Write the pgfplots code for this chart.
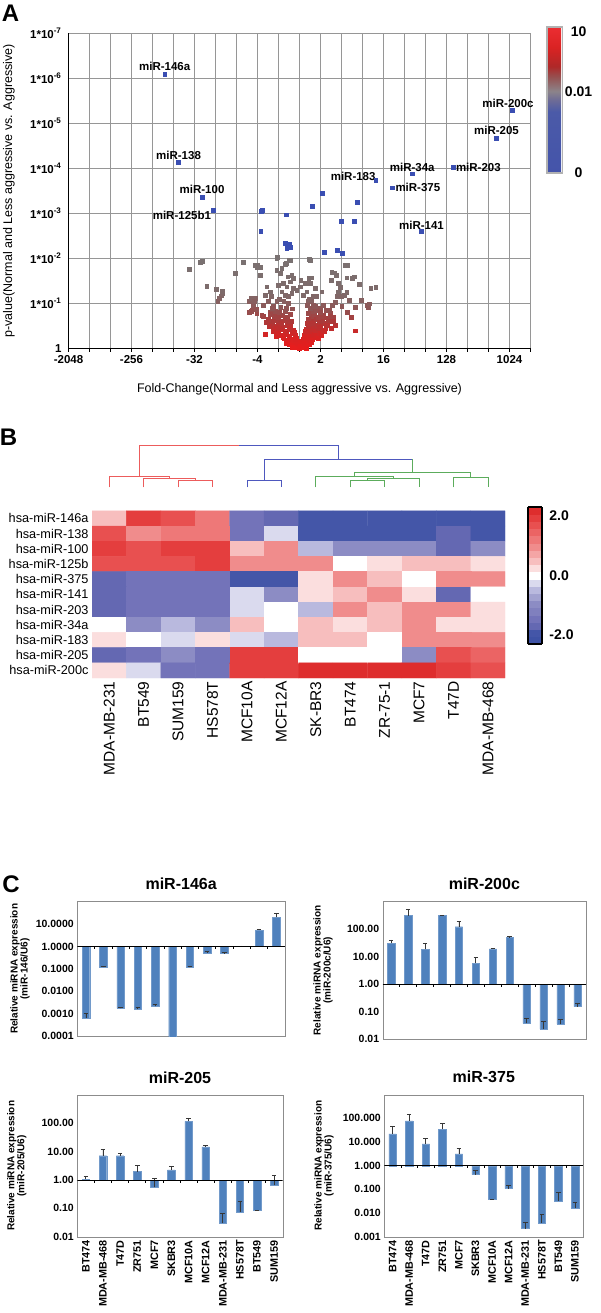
\documentclass[border=0pt]{standalone}
\usepackage{pgfplots}
\pgfplotsset{compat=1.18}
\usepackage{fontspec}
\setmainfont{Liberation Sans}

\definecolor{barblue}{RGB}{79,129,189}
\definecolor{ptblue}{RGB}{58,78,178}
\definecolor{gridgray}{RGB}{150,150,150}
\definecolor{dred}{RGB}{236,92,92}
\definecolor{dblue}{RGB}{78,88,190}
\definecolor{dgreen}{RGB}{92,172,92}
\definecolor{errgray}{RGB}{55,55,55}

\newcommand{\fsz}[1]{\fontsize{#1}{#1}\selectfont}
\tikzset{lbl/.style={font=\bfseries\fsz{11.5}, inner sep=1pt, text=black}}

\pgfplotsset{
  every bar axis/.style={
    scale only axis,
    xmin=-0.5, xmax=11.5, xtick={0,...,11},
    axis line style={black!45},
    tick style={draw=none},
    yticklabel style={font=\bfseries\fsz{10.5}},
    xticklabel style={font=\bfseries\fsz{10.8}, rotate=90, anchor=east},
    title style={font=\bfseries\fsz{16}, at={(axis description cs:0.5,1)}, anchor=center, yshift=11.5pt},
    ylabel style={font=\bfseries\fsz{10}, align=center, anchor=center},
  },
}

\begin{document}
\begin{tikzpicture}
\useasboundingbox (0,0) rectangle (600pt,-1313pt);

% ---------------- A: volcano plot
\begin{axis}[scale only axis, at={(68.5pt,-348.3pt)}, anchor=south west,
  width=462pt, height=315pt, xmin=-11, xmax=11, ymin=0, ymax=7,
  axis x line*=bottom, axis y line*=left, axis line style={black, line width=0.7pt},
  xtick={-11,...,11}, xticklabels={-2048,,,-256,,,-32,,,-4,,,2,,,16,,,128,,,1024,},
  ytick={0,...,7},
  yticklabels={1,1*10\textsuperscript{-1},1*10\textsuperscript{-2},1*10\textsuperscript{-3},1*10\textsuperscript{-4},1*10\textsuperscript{-5},1*10\textsuperscript{-6},1*10\textsuperscript{-7}},
  grid=major, major grid style={gridgray, line width=0.6pt},
  tick align=outside, major tick length=3.5pt, xtick style={black, line width=0.6pt}, ytick style={draw=none},
  ticklabel style={font=\bfseries\fsz{11.5}},
  xlabel={Fold-Change(Normal and Less aggressive vs. Aggressive)},
  xlabel style={font=\fsz{12.5}, at={(axis description cs:0.5,-0.13)}, anchor=center},
  ylabel={p-value(Normal and Less aggressive vs. Aggressive)},
  ylabel style={font=\fsz{12.5}, at={(axis description cs:-0.129,0.5)}, anchor=center},
  colormap={cloud}{rgb255(0cm)=(232,28,28); rgb255(3cm)=(212,36,36); rgb255(6cm)=(172,56,56); rgb255(9cm)=(142,86,86); rgb255(12cm)=(126,106,106); rgb255(20cm)=(122,114,114)},
  point meta min=0, point meta max=2, clip=false]

\addplot[scatter, only marks, mark=square*, mark size=1.9pt, point meta=y,
  scatter/use mapped color={draw=mapped color, fill=mapped color}] coordinates {
(-5.25,1.75) (-4.72,1.92) (-4.62,1.94) (-4.42,1.38) (-3.98,1.31) (-3.70,1.27) (-3.68,1.22)
(-3.74,1.17) (-3.82,1.11) (-3.90,1.05) (-3.05,1.67) (-2.68,1.92) (-2.39,1.04) (-2.39,0.81)
(-1.09,2.00) (-0.48,1.96) (0.47,1.98) (-2.13,1.84) (-2.01,1.79) (-0.69,1.87) (-0.85,1.78)
(-1.09,1.74) (-0.37,1.63) (-0.56,1.59) (-0.93,1.67) (-1.88,1.63) (0.44,1.55) (0.58,1.57)
(1.53,1.70) (1.50,1.52) (1.72,1.63) (1.85,1.44) (2.25,1.57) (1.93,1.35) (2.25,1.24)
(1.77,1.15) (1.69,1.02) (2.01,0.93) (2.37,1.07) (2.14,1.18)
(-1.56,1.37) (-1.40,1.26) (-1.64,1.18) (-1.33,1.15) (-1.72,0.96) (-1.48,1.04) (-1.25,0.93)
(-1.40,0.81) (-1.09,1.04) (-1.01,1.41) (-0.77,1.44) (-0.61,1.37) (-0.45,1.48) (-0.29,1.55)
(-0.29,1.33) (-0.85,1.26) (-0.69,1.18) (-0.53,1.15) (-0.37,1.22) (-0.13,1.30) (0.02,1.37)
(0.18,1.18) (0.34,1.26) (0.42,1.04) (0.58,1.07) (0.66,0.96) (0.82,1.15) (0.98,0.89)
(1.13,0.96) (1.29,0.85) (1.45,0.78) (1.61,0.70) (1.06,1.26) (0.74,1.33) (0.50,1.44)
(0.26,1.44) (0.06,1.52) (1.13,0.74) (0.82,0.67) (1.53,0.59) (1.69,0.52) (1.29,0.52)
(-2.12,1.11) (-2.28,0.85) (-2.04,0.78) (-1.80,0.74) (-2.20,0.96)
(-0.30,0.05) (-0.15,0.02) (0.00,0.00) (0.12,0.03) (0.25,0.06) (-0.40,0.10) (0.35,0.10)
(-0.05,0.08) (0.10,0.10) (-0.22,0.12)
(-0.60,0.18) (-0.45,0.20) (-0.30,0.17) (-0.15,0.22) (0.00,0.15) (0.15,0.20) (0.30,0.18)
(0.45,0.22) (0.60,0.20) (-0.75,0.22) (0.75,0.24)
(-0.90,0.30) (-0.70,0.32) (-0.50,0.28) (-0.35,0.33) (-0.20,0.30) (0.20,0.30) (0.35,0.33)
(0.50,0.28) (0.65,0.32) (0.80,0.30) (0.95,0.34)
(-1.05,0.40) (-0.85,0.42) (-0.65,0.38) (-0.45,0.42) (-0.30,0.40) (0.30,0.42) (0.45,0.38)
(0.60,0.42) (0.75,0.40) (0.90,0.44) (1.10,0.40) (1.25,0.45)
(-1.20,0.50) (-1.00,0.52) (-0.80,0.48) (-0.60,0.52) (-0.42,0.50) (0.40,0.50) (0.55,0.53)
(0.70,0.48) (0.85,0.52) (1.00,0.50) (1.15,0.55) (-1.35,0.55)
(-1.30,0.60) (-1.10,0.62) (-0.90,0.60) (-0.70,0.63) (-0.55,0.60) (0.50,0.62) (0.65,0.60)
(0.80,0.64) (0.95,0.60) (1.10,0.63) (1.35,0.62) (-1.50,0.65)
(-1.20,0.72) (-1.00,0.70) (-0.80,0.73) (-0.60,0.70) (0.55,0.72) (0.70,0.75) (0.90,0.70)
(1.05,0.72) (1.25,0.68)
(-1.15,0.82) (-0.95,0.80) (-0.70,0.83) (0.60,0.82) (0.80,0.85) (1.00,0.80) (1.40,0.85)
(-0.90,0.92) (-0.65,0.90) (0.50,0.90) (0.75,0.93) (-1.30,0.90)
(-0.75,1.05) (-0.55,1.00) (0.45,1.10) (0.65,1.15) (-0.95,1.10)
(-1.74,0.72) (-1.65,0.31) (-1.10,0.27) (-2.05,0.87) (-2.29,0.83) (-2.29,1.11) (-2.16,1.04)
(2.66,0.39) (3.20,0.96) (2.66,0.92) (2.29,0.81) (2.47,0.70) (3.26,0.92) (3.33,0.99)
(2.93,1.07) (3.39,1.33) (3.63,1.35) (2.84,1.43) (2.60,1.59) (2.50,1.55) (2.29,1.85)
(2.16,1.85) (0.51,1.95) (-1.06,2.02) (-0.64,1.89) (-0.42,1.96) (-2.02,1.85) (-1.87,1.80)
(-2.70,1.92) (1.65,1.68) (1.74,1.62) (1.83,1.26) (2.00,1.15) (1.56,0.96)
(-0.50,0.08) (0.45,0.08) (-0.35,0.02) (0.30,0.01) (0.05,0.05) (-0.10,0.15) (0.20,0.12)
(-0.80,0.25) (0.90,0.22) (-1.00,0.33) (1.05,0.30) (-1.15,0.44) (1.20,0.38) (-0.95,0.47)
(0.95,0.47) (-1.25,0.38) (1.30,0.52) (-1.45,0.50) (1.50,0.45) (-0.20,0.20) (0.22,0.24)
(-0.65,0.12) (0.55,0.14) (-0.85,0.55) (0.60,0.55) (-0.50,0.45) (0.35,0.55) (-0.40,0.60)
(0.42,0.66) (-1.60,0.58) (1.60,0.60) (-0.45,0.75) (0.40,0.78) (-0.35,0.88) (0.35,0.95)
(-1.40,0.75) (1.45,0.72) (-0.25,0.35) (0.25,0.38)
};

\addplot[only marks, mark=square*, mark size=1.9pt, color=ptblue] coordinates {
(-6.42,6.09) (-5.76,4.13) (-4.64,3.36) (-4.11,3.07) (10.12,5.29) (9.38,4.67) (7.30,4.03)
(5.37,3.88) (3.63,3.73) (4.42,3.57) (5.81,2.60)
(1.09,3.45) (2.74,3.25) (0.61,3.16) (-1.78,3.07) (-1.83,3.04) (-0.64,2.97) (2.00,2.83)
(2.59,2.83) (-1.85,2.61) (-0.69,2.33) (-0.58,2.29) (-0.49,2.31) (-0.61,2.23) (-0.46,2.25)
(1.17,2.13) (1.80,2.18) (2.05,2.11)
};

\node[lbl, anchor=south, yshift=2pt] at (axis cs:-6.42,6.09) {miR-146a};
\node[lbl, anchor=south, yshift=2pt] at (axis cs:-5.76,4.13) {miR-138};
\node[lbl, anchor=south, yshift=2pt] at (axis cs:-4.64,3.36) {miR-100};
\node[lbl, anchor=east, xshift=-1pt, yshift=-5pt] at (axis cs:-4.11,3.07) {miR-125b1};
\node[lbl, anchor=south, xshift=-4pt, yshift=1pt] at (axis cs:10.12,5.29) {miR-200c};
\node[lbl, anchor=south, yshift=2pt] at (axis cs:9.38,4.67) {miR-205};
\node[lbl, anchor=west, xshift=2pt] at (axis cs:7.30,4.03) {miR-203};
\node[lbl, anchor=south, yshift=1pt] at (axis cs:5.37,3.88) {miR-34a};
\node[lbl, anchor=south east, xshift=1pt, yshift=-1pt] at (axis cs:3.63,3.73) {miR-183};
\node[lbl, anchor=west, xshift=2pt] at (axis cs:4.42,3.57) {miR-375};
\node[lbl, anchor=south, yshift=1pt] at (axis cs:5.81,2.60) {miR-141};
\end{axis}

% colour scale of A
\begin{axis}[at={(547pt,-173pt)}, anchor=south west, hide axis, scale only axis, width=1pt, height=1pt,
  colormap={pbar}{rgb255(0cm)=(68,84,170); rgb255(42cm)=(75,90,168); rgb255(50cm)=(110,108,150); rgb255(56cm)=(140,132,138); rgb255(66cm)=(150,80,80); rgb255(73cm)=(175,40,40); rgb255(86cm)=(218,35,35); rgb255(100cm)=(235,45,50)},
  point meta min=0, point meta max=1, colorbar,
  colorbar style={at={(0,0)}, anchor=south west, scale only axis, width=15.6pt, height=146pt,
    ytick={0,0.557,0.968}, yticklabels={0,0.01,10},
    yticklabel style={font=\bfseries\fsz{14}, anchor=center, xshift=16pt},
    axis line style={black!30, line width=1.5pt}, major tick length=0pt}]
\addplot[draw=none] coordinates {(0,0)};
\end{axis}

% ---------------- B: dendrogram
\begin{axis}[at={(92pt,-487.3pt)}, anchor=south west, scale only axis, width=413.2pt, height=42.3pt,
  xmin=-0.5, xmax=11.5, ymin=0, ymax=42.3, hide axis, clip=false]
\addplot[dred, line width=0.9pt] coordinates {(2,0) (2,6.6) (3,6.6) (3,0)};
\addplot[dred, line width=0.9pt] coordinates {(1,0) (1,9) (2.5,9) (2.5,6.6)};
\addplot[dred, line width=0.9pt] coordinates {(0,0) (0,11.3) (1.75,11.3) (1.75,9)};
\addplot[dred, line width=0.9pt] coordinates {(0.875,11.3) (0.875,42.3) (3.77,42.3)};
\addplot[dblue, line width=0.9pt] coordinates {(3.77,42.3) (6.656,42.3) (6.656,28)};
\addplot[dblue, line width=0.9pt] coordinates {(4,0) (4,6.6) (5,6.6) (5,0)};
\addplot[dblue, line width=0.9pt] coordinates {(4.5,6.6) (4.5,28) (8.8125,28)};
\addplot[dgreen, line width=0.9pt] coordinates {(8.8125,28) (8.8125,14.6)};
\addplot[dgreen, line width=0.9pt] coordinates {(7,0) (7,7.3) (8,7.3) (8,0)};
\addplot[dgreen, line width=0.9pt] coordinates {(7.5,7.3) (7.5,9) (9,9) (9,0)};
\addplot[dgreen, line width=0.9pt] coordinates {(6,0) (6,10.6) (8.25,10.6) (8.25,9)};
\addplot[dgreen, line width=0.9pt] coordinates {(10,0) (10,10) (11,10) (11,0)};
\addplot[dgreen, line width=0.9pt] coordinates {(7.125,10.6) (7.125,14.6) (10.5,14.6) (10.5,10)};
\end{axis}

% ---------------- B: heat map
\begin{axis}[scale only axis, at={(92pt,-678pt)}, anchor=south west, width=413.2pt, height=167.2pt,
  xmin=-0.5, xmax=11.5, ymin=-0.5, ymax=10.5, y dir=reverse,
  axis line style={draw=none}, tick style={draw=none},
  xtick={0,...,11},
  xticklabels={MDA-MB-231,BT549,SUM159,HS578T,MCF10A,MCF12A,SK-BR3,BT474,ZR-75-1,MCF7,T47D,MDA-MB-468},
  xticklabel style={rotate=90, anchor=east, font=\fsz{15.5}},
  ytick={0,...,10},
  yticklabels={hsa-miR-146a,hsa-miR-138,hsa-miR-100,hsa-miR-125b,hsa-miR-375,hsa-miR-141,hsa-miR-203,hsa-miR-34a,hsa-miR-183,hsa-miR-205,hsa-miR-200c},
  yticklabel style={font=\fsz{12.7}},
  colormap={heat}{rgb255=(62,82,165) rgb255=(68,86,168) rgb255=(100,104,178) rgb255=(115,115,185)
    rgb255=(128,128,190) rgb255=(140,140,196) rgb255=(162,162,208) rgb255=(185,185,222)
    rgb255=(218,218,238) rgb255=(255,255,255) rgb255=(251,222,222) rgb255=(247,190,190)
    rgb255=(244,165,165) rgb255=(240,140,140) rgb255=(238,120,120) rgb255=(235,100,100)
    rgb255=(232,80,80) rgb255=(228,62,62) rgb255=(222,45,45)},
  colormap access=piecewise constant,
  point meta min=-2.3, point meta max=2.3,
  colorbar,
  colorbar style={at={(1.055,1.0227)}, anchor=north west, scale only axis, width=14pt, height=137pt,
    ytick={-2,0,2}, yticklabels={-2.0,0.0,2.0}, yticklabel style={font=\bfseries\fsz{14}, xshift=4pt},
    axis line style={black, line width=2pt}, major tick length=0pt}]
\addplot[matrix plot*, mesh/cols=12, point meta=explicit] coordinates {
(0,0)[0.5] (1,0)[1.9] (2,0)[1.6] (3,0)[1.1] (4,0)[-1.5] (5,0)[-1.8] (6,0)[-2] (7,0)[-2] (8,0)[-2] (9,0)[-2] (10,0)[-2] (11,0)[-2]
(0,1)[1.6] (1,1)[1.0] (2,1)[1.3] (3,1)[1.3] (4,1)[-1.5] (5,1)[-0.3] (6,1)[-2] (7,1)[-2] (8,1)[-2] (9,1)[-2] (10,1)[-1.8] (11,1)[-2]
(0,2)[1.9] (1,2)[1.7] (2,2)[1.9] (3,2)[2.0] (4,2)[0.5] (5,2)[1.0] (6,2)[-0.6] (7,2)[-1.0] (8,2)[-1.0] (9,2)[-1.0] (10,2)[-1.8] (11,2)[-1.0]
(0,3)[1.6] (1,3)[1.6] (2,3)[1.6] (3,3)[2.0] (4,3)[1.0] (5,3)[1.0] (6,3)[1.0] (7,3)[0] (8,3)[0.3] (9,3)[0.6] (10,3)[0.6] (11,3)[0.3]
(0,4)[-1.8] (1,4)[-1.5] (2,4)[-1.5] (3,4)[-1.5] (4,4)[-2] (5,4)[-2] (6,4)[0.3] (7,4)[1.0] (8,4)[0.6] (9,4)[0] (10,4)[1.0] (11,4)[1.0]
(0,5)[-1.6] (1,5)[-1.5] (2,5)[-1.5] (3,5)[-1.5] (4,5)[-0.3] (5,5)[-1.0] (6,5)[0.3] (7,5)[0.6] (8,5)[1.0] (9,5)[0.3] (10,5)[-1.6] (11,5)[0]
(0,6)[-1.8] (1,6)[-1.5] (2,6)[-1.5] (3,6)[-1.5] (4,6)[-0.3] (5,6)[0] (6,6)[-0.6] (7,6)[1.0] (8,6)[0.6] (9,6)[1.0] (10,6)[1.0] (11,6)[0.3]
(0,7)[0] (1,7)[-1.0] (2,7)[-0.6] (3,7)[-1.0] (4,7)[0.6] (5,7)[0.05] (6,7)[0.6] (7,7)[0.3] (8,7)[0.6] (9,7)[1.0] (10,7)[0.3] (11,7)[0.3]
(0,8)[0.3] (1,8)[0] (2,8)[-0.3] (3,8)[0.3] (4,8)[-0.3] (5,8)[-0.6] (6,8)[0.6] (7,8)[0.6] (8,8)[0] (9,8)[1.0] (10,8)[1.0] (11,8)[1.0]
(0,9)[-1.8] (1,9)[-1.5] (2,9)[-1.0] (3,9)[-1.5] (4,9)[2.0] (5,9)[2.0] (6,9)[0] (7,9)[0] (8,9)[0] (9,9)[-1.0] (10,9)[1.6] (11,9)[1.4]
(0,10)[0.3] (1,10)[-0.3] (2,10)[-1.5] (3,10)[-1.5] (4,10)[2.0] (5,10)[2.0] (6,10)[2.2] (7,10)[2.2] (8,10)[2.1] (9,10)[2.2] (10,10)[1.9] (11,10)[1.8]
};
\end{axis}

% ---------------- C: miR-146a
\begin{axis}[every bar axis, ymode=log, log origin y=0,
  at={(77.3pt,-1036pt)}, anchor=south west, width=207.7pt, height=134.4pt,
  ymin=1e-4, ymax=100, ytick={1e-4,1e-3,1e-2,1e-1,1,10},
  yticklabels={0.0001,0.0010,0.0100,0.1000,1.0000,10.0000},
  xticklabels={}, title={miR-146a},
  ylabel={Relative miRNA expression\\(miR-146/U6)},
  ylabel style={at={(axis description cs:-0.276,0.5)}}]
\addplot[ybar, bar width=7.5pt, bar shift=0pt, fill=barblue, draw=barblue!80!white,
  error bars/.cd, y dir=plus, y explicit, error bar style={errgray, line width=0.8pt},
  error mark options={errgray, mark size=2.3pt, line width=0.8pt, rotate=90}] coordinates {
(0,6.5e-4) +- (0,4e-4) (1,0.12) +- (0,0.01) (2,0.0017) +- (0,0.0002) (3,0.0016) +- (0,0.0003)
(4,0.0021) +- (0,0.0004) (5,5e-5) +- (0,0) (6,0.12) +- (0,0.01) (7,0.52) +- (0,0.08)
(8,0.48) +- (0,0.06) (9,1.03) +- (0,0.02) (10,5.3) +- (0,0.5) (11,19.7) +- (0,10)};
\addplot[black, line width=0.8pt] coordinates {(-0.5,1) (11.5,1)};
\addplot[draw=none, mark=none, error bars/.cd, y dir=minus, y fixed relative=0.22, error mark=none,
  error bar style={draw=black, line width=0.6pt}] coordinates {(0.5,1) (1.5,1) (2.5,1) (3.5,1) (4.5,1) (5.5,1) (6.5,1) (7.5,1) (8.5,1) (9.5,1) (10.5,1)};
\end{axis}

% ---------------- C: miR-200c
\begin{axis}[every bar axis, ymode=log, log origin y=0,
  at={(382.7pt,-1039pt)}, anchor=south west, width=203.3pt, height=137.5pt,
  ymin=0.01, ymax=1000, ytick={0.01,0.1,1,10,100},
  yticklabels={0.01,0.10,1.00,10.00,100.00},
  xticklabels={}, title={miR-200c},
  ylabel={Relative miRNA expression\\(miR-200c/U6)},
  ylabel style={at={(axis description cs:-0.294,0.5)}}]
\addplot[ybar, bar width=7.5pt, bar shift=0pt, fill=barblue, draw=barblue!80!white,
  error bars/.cd, y dir=plus, y explicit, error bar style={errgray, line width=0.8pt},
  error mark options={errgray, mark size=2.3pt, line width=0.8pt, rotate=90}] coordinates {
(0,30) +- (0,10) (1,305) +- (0,215) (2,18) +- (0,12) (3,305) +- (0,15)
(4,121) +- (0,64) (5,5.7) +- (0,3.6) (6,19) +- (0,1) (7,50) +- (0,3)
(8,0.037) +- (0,0.019) (9,0.023) +- (0,0.022) (10,0.035) +- (0,0.018) (11,0.15) +- (0,0.04)};
\addplot[black, line width=0.8pt] coordinates {(-0.5,1) (11.5,1)};
\addplot[draw=none, mark=none, error bars/.cd, y dir=minus, y fixed relative=0.22, error mark=none,
  error bar style={draw=black, line width=0.6pt}] coordinates {(0.5,1) (1.5,1) (2.5,1) (3.5,1) (4.5,1) (5.5,1) (6.5,1) (7.5,1) (8.5,1) (9.5,1) (10.5,1)};
\end{axis}

% ---------------- C: miR-205
\begin{axis}[every bar axis, ymode=log, log origin y=0,
  at={(77.3pt,-1236.7pt)}, anchor=south west, width=205.4pt, height=141.7pt,
  ymin=0.01, ymax=1000, ytick={0.01,0.1,1,10,100},
  yticklabels={0.01,0.10,1.00,10.00,100.00},
  xticklabels={BT474,MDA-MB-468,T47D,ZR751,MCF7,SKBR3,MCF10A,MCF12A,MDA-MB-231,HS578T,BT549,SUM159},
  title={miR-205},
  ylabel={Relative miRNA expression\\(miR-205/U6)},
  ylabel style={at={(axis description cs:-0.295,0.5)}}]
\addplot[ybar, bar width=7.5pt, bar shift=0pt, fill=barblue, draw=barblue!80!white,
  error bars/.cd, y dir=plus, y explicit, error bar style={errgray, line width=0.8pt},
  error mark options={errgray, mark size=2.3pt, line width=0.8pt, rotate=90}] coordinates {
(0,1.05) +- (0,0.3) (1,7.2) +- (0,5.2) (2,7.2) +- (0,1.3) (3,2.0) +- (0,1.2)
(4,0.55) +- (0,0.55) (5,2.3) +- (0,0.7) (6,117) +- (0,38) (7,14.7) +- (0,1.5)
(8,0.030) +- (0,0.038) (9,0.076) +- (0,0.1) (10,0.083) +- (0,0.004) (11,0.66) +- (0,0.75)};
\addplot[black, line width=0.8pt] coordinates {(-0.5,1) (11.5,1)};
\addplot[draw=none, mark=none, error bars/.cd, y dir=minus, y fixed relative=0.22, error mark=none,
  error bar style={draw=black, line width=0.6pt}] coordinates {(0.5,1) (1.5,1) (2.5,1) (3.5,1) (4.5,1) (5.5,1) (6.5,1) (7.5,1) (8.5,1) (9.5,1) (10.5,1)};
\end{axis}

% ---------------- C: miR-375
\begin{axis}[every bar axis, ymode=log, log origin y=0,
  at={(384.3pt,-1236.7pt)}, anchor=south west, width=199pt, height=142pt,
  ymin=0.001, ymax=1000, ytick={0.001,0.01,0.1,1,10,100},
  yticklabels={0.001,0.010,0.100,1.000,10.000,100.000},
  xticklabels={BT474,MDA-MB-468,T47D,ZR751,MCF7,SKBR3,MCF10A,MCF12A,MDA-MB-231,HS578T,BT549,SUM159},
  title={miR-375},
  ylabel={Relative miRNA expression\\(miR-375/U6)},
  ylabel style={at={(axis description cs:-0.303,0.5)}}]
\addplot[ybar, bar width=7.5pt, bar shift=0pt, fill=barblue, draw=barblue!80!white,
  error bars/.cd, y dir=plus, y explicit, error bar style={errgray, line width=0.8pt},
  error mark options={errgray, mark size=2.3pt, line width=0.8pt, rotate=90}] coordinates {
(0,22.4) +- (0,23) (1,79) +- (0,73) (2,8.3) +- (0,6.4) (3,35) +- (0,24)
(4,3.2) +- (0,2.4) (5,0.42) +- (0,0.2) (6,0.037) +- (0,0.002) (7,0.107) +- (0,0.035)
(8,0.0022) +- (0,0.002) (9,0.0038) +- (0,0.0047) (10,0.033) +- (0,0.042) (11,0.016) +- (0,0.012)};
\addplot[black, line width=0.8pt] coordinates {(-0.5,1) (11.5,1)};
\addplot[draw=none, mark=none, error bars/.cd, y dir=minus, y fixed relative=0.22, error mark=none,
  error bar style={draw=black, line width=0.6pt}] coordinates {(0.5,1) (1.5,1) (2.5,1) (3.5,1) (4.5,1) (5.5,1) (6.5,1) (7.5,1) (8.5,1) (9.5,1) (10.5,1)};
\end{axis}

% panel letters
\node[font=\bfseries\fsz{24}] at (10.5pt,-13.5pt) {A};
\node[font=\bfseries\fsz{24}] at (8.5pt,-437.5pt) {B};
\node[font=\bfseries\fsz{24}] at (11pt,-884pt) {C};
\end{tikzpicture}
\end{document}
